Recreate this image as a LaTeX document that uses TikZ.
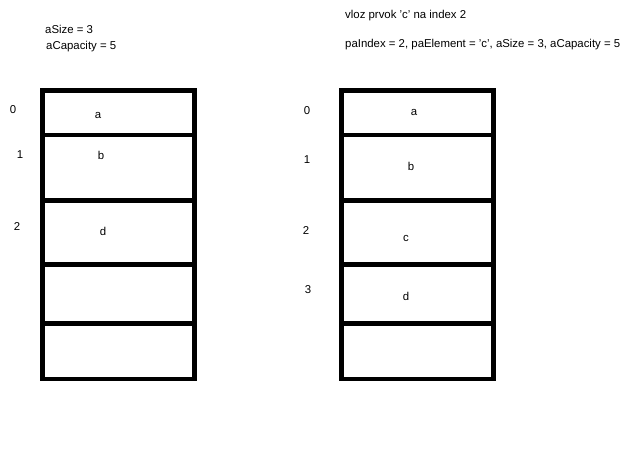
\documentclass[tikz,border=0pt]{standalone}
\usepackage{fontspec}
\setmainfont{Liberation Sans}
\begin{document}
\begin{tikzpicture}[x=1pt,y=-1pt,
  cellline/.style={line width=4.5pt,line cap=rect},
  lbl/.style={inner sep=0pt,font=\fontsize{11.4}{13}\selectfont},
  txt/.style={inner sep=0pt,anchor=base west,font=\fontsize{11.4}{13}\selectfont}]
\useasboundingbox[fill=white] (0,0) rectangle (635,457);
% headers
\node[txt] (size1) at (45,34) {aSize = 3};
\node[txt] (cap1) at (46,49.5) {aCapacity = 5};
\node[txt] (title2) at (345,19) {vloz prvok 'c' na index 2};
\node[txt] (params2) at (345,47.5) {paIndex = 2, paElement = 'c', aSize = 3, aCapacity = 5};
% left array
\draw[cellline] (42.5,90.5) rectangle (194.5,379);
\foreach \yy in {135,200.5,264.5,323.3} \draw[cellline] (42.5,\yy) -- (194.5,\yy);
\node[lbl] (la) at (98,115) {a};
\node[lbl] (lb) at (101,155) {b};
\node[lbl] (ld) at (103,231) {d};
\node[lbl] (li0) at (13,110) {0};
\node[lbl] (li1) at (20,155) {1};
\node[lbl] (li2) at (17,227) {2};
% right array
\draw[cellline] (341.7,90.5) rectangle (493.3,379);
\foreach \yy in {135,200.5,264.5,323.3} \draw[cellline] (341.7,\yy) -- (493.3,\yy);
\node[lbl] (ra) at (414,112) {a};
\node[lbl] (rb) at (411,166) {b};
\node[lbl] (rc) at (406,238) {c};
\node[lbl] (rd) at (406,296) {d};
\node[lbl] (ri0) at (307,111) {0};
\node[lbl] (ri1) at (307,160) {1};
\node[lbl] (ri2) at (306,231) {2};
\node[lbl] (ri3) at (308,290) {3};
\end{tikzpicture}
\end{document}
